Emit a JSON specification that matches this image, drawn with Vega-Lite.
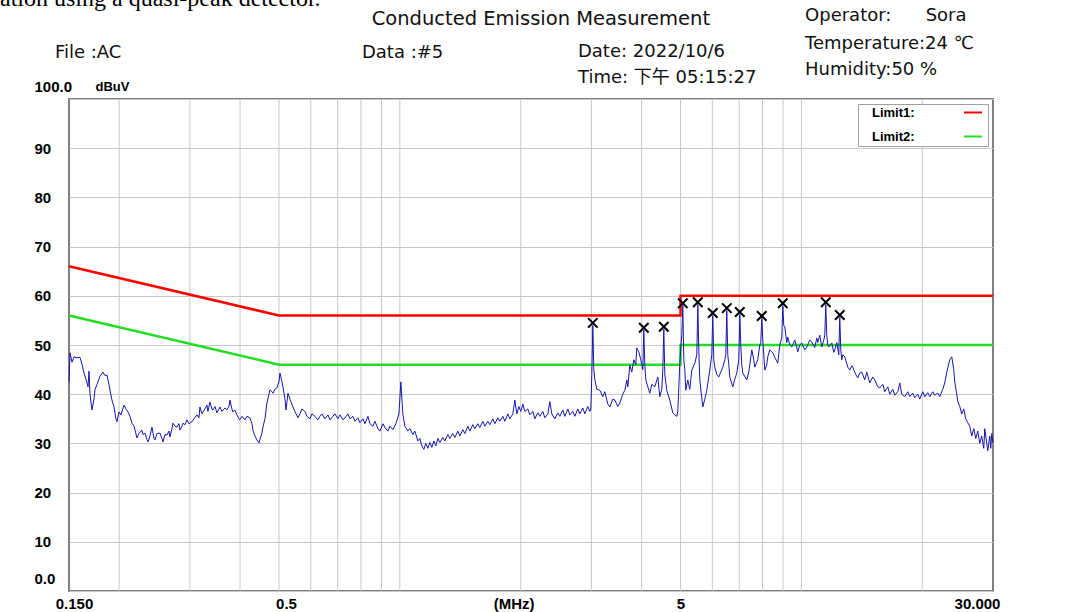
{
"$schema": "https://vega.github.io/schema/vega-lite/v6.json",
"width": 924, "height": 492,
"autosize": {"type": "none"},
"padding": {"left": 69, "top": 99, "right": 85, "bottom": 21},
"background": "white",
"config": {"view": {"stroke": "#7f7f7f", "strokeWidth": 2}},
"datasets": {
"grid": [{"f":0.2},{"f":0.3},{"f":0.4},{"f":0.5},{"f":0.6},{"f":0.7},{"f":0.8},{"f":0.9},{"f":1},{"f":2},{"f":3},{"f":4},{"f":5},{"f":6},{"f":7},{"f":8},{"f":9},{"f":10},{"f":20}],
"limits": [
{"lim":"Limit1","i":0,"f":0.15,"v":66},{"lim":"Limit1","i":1,"f":0.5,"v":56},{"lim":"Limit1","i":2,"f":5,"v":56},{"lim":"Limit1","i":3,"f":5,"v":60},{"lim":"Limit1","i":4,"f":30,"v":60},
{"lim":"Limit2","i":0,"f":0.15,"v":56},{"lim":"Limit2","i":1,"f":0.5,"v":46},{"lim":"Limit2","i":2,"f":5,"v":46},{"lim":"Limit2","i":3,"f":5,"v":50},{"lim":"Limit2","i":4,"f":30,"v":50}],
"peaks": [{"f":3.0238,"v":54.5},{"f":4.0507,"v":53.5},{"f":4.5429,"v":53.7},{"f":5.0657,"v":58.5},{"f":5.5206,"v":58.7},{"f":6.0163,"v":56.5},{"f":6.5192,"v":57.5},{"f":7.0236,"v":56.7},{"f":7.9677,"v":55.9},{"f":8.9872,"v":58.5},{"f":11.5,"v":58.7},{"f":12.461,"v":56.1}],
"meta": [
{"t":"File :AC","f":0.1384,"v":109.3},
{"t":"Data :#5","f":0.8047,"v":109.3},
{"t":"Date: 2022/10/6","f":2.777,"v":109.6},
{"t":"Time: 下午 05:15:27","f":2.777,"v":104.3},
{"t":"Operator:\u00a0\u00a0\u00a0\u00a0\u00a0\u00a0Sora","f":10.21,"v":116.9},
{"t":"Temperature:24 ℃","f":10.21,"v":111.2},
{"t":"Humidity:50 %","f":10.21,"v":105.9}],
"title": [{"t":"Conducted Emission Measurement","f":2.245,"v":116.3}],
"cut": [{"t":"ation using a quasi-peak detector.","f":0.101,"v":118.9}],
"trace": [
{"f":0.1500,"v":42.5},{"f":0.1509,"v":48.4},{"f":0.1526,"v":46.5},{"f":0.1544,"v":47.6},{"f":0.1570,"v":47.4},{"f":0.1598,"v":47.5},{"f":0.1617,"v":46},{"f":0.1635,"v":44.3},{"f":0.1654,"v":43},{"f":0.1673,"v":41.5},{"f":0.1682,"v":44.7},{"f":0.1692,"v":40},{"f":0.1711,"v":36.8},{"f":0.1731,"v":39},{"f":0.1741,"v":40.9},{"f":0.1761,"v":42},{"f":0.1791,"v":43.6},{"f":0.1822,"v":44.5},{"f":0.1843,"v":43.8},{"f":0.1865,"v":43.9},{"f":0.1886,"v":42},{"f":0.1919,"v":38.8},{"f":0.1941,"v":37.5},{"f":0.1963,"v":35},{"f":0.1975,"v":34.4},{"f":0.1998,"v":36.4},{"f":0.2021,"v":35.8},{"f":0.2056,"v":37.8},{"f":0.2080,"v":37},{"f":0.2104,"v":36.4},{"f":0.2128,"v":35.5},{"f":0.2153,"v":34.1},{"f":0.2178,"v":33.5},{"f":0.2215,"v":31.1},{"f":0.2240,"v":32},{"f":0.2279,"v":32.7},{"f":0.2292,"v":31.8},{"f":0.2318,"v":32.1},{"f":0.2345,"v":30.8},{"f":0.2359,"v":30.3},{"f":0.2387,"v":31.5},{"f":0.2414,"v":33.3},{"f":0.2442,"v":31},{"f":0.2456,"v":30.7},{"f":0.2484,"v":32},{"f":0.2527,"v":32.1},{"f":0.2557,"v":31},{"f":0.2571,"v":30.3},{"f":0.2601,"v":31.8},{"f":0.2631,"v":31.7},{"f":0.2661,"v":32.5},{"f":0.2676,"v":31.3},{"f":0.2707,"v":33},{"f":0.2723,"v":34.1},{"f":0.2754,"v":33.5},{"f":0.2786,"v":33.3},{"f":0.2818,"v":34},{"f":0.2834,"v":32.7},{"f":0.2867,"v":33.5},{"f":0.2883,"v":34.1},{"f":0.2917,"v":33.8},{"f":0.2950,"v":34.8},{"f":0.2984,"v":34},{"f":0.3036,"v":34.4},{"f":0.3071,"v":35},{"f":0.3124,"v":35.8},{"f":0.3160,"v":35.2},{"f":0.3178,"v":37.4},{"f":0.3215,"v":36},{"f":0.3233,"v":36.4},{"f":0.3271,"v":37},{"f":0.3308,"v":37.8},{"f":0.3327,"v":36.5},{"f":0.3366,"v":38.4},{"f":0.3405,"v":37},{"f":0.3425,"v":36.8},{"f":0.3464,"v":37.5},{"f":0.3504,"v":36.2},{"f":0.3544,"v":37},{"f":0.3564,"v":37.4},{"f":0.3605,"v":36.5},{"f":0.3668,"v":37.2},{"f":0.3710,"v":36.8},{"f":0.3753,"v":37.5},{"f":0.3775,"v":38.8},{"f":0.3818,"v":37},{"f":0.3840,"v":36.4},{"f":0.3884,"v":36.8},{"f":0.3929,"v":35.8},{"f":0.3975,"v":35},{"f":0.3998,"v":34.8},{"f":0.4044,"v":35.5},{"f":0.4114,"v":34.8},{"f":0.4162,"v":35.5},{"f":0.4233,"v":35.2},{"f":0.4282,"v":34},{"f":0.4307,"v":32.7},{"f":0.4356,"v":31.5},{"f":0.4407,"v":30.7},{"f":0.4458,"v":30.1},{"f":0.4509,"v":31.5},{"f":0.4535,"v":32.1},{"f":0.4561,"v":33.3},{"f":0.4614,"v":35},{"f":0.4667,"v":38.2},{"f":0.4721,"v":40},{"f":0.4748,"v":40.9},{"f":0.4803,"v":40.5},{"f":0.4831,"v":40.2},{"f":0.4886,"v":41},{"f":0.4943,"v":41.3},{"f":0.5000,"v":42.5},{"f":0.5029,"v":44.3},{"f":0.5087,"v":42.5},{"f":0.5116,"v":41.5},{"f":0.5175,"v":39},{"f":0.5205,"v":36.8},{"f":0.5235,"v":38.5},{"f":0.5265,"v":40.2},{"f":0.5325,"v":39},{"f":0.5418,"v":37.4},{"f":0.5480,"v":36.5},{"f":0.5575,"v":35.2},{"f":0.5639,"v":36},{"f":0.5704,"v":37},{"f":0.5803,"v":36.5},{"f":0.5870,"v":35.5},{"f":0.5972,"v":35},{"f":0.6041,"v":36},{"f":0.6146,"v":35.5},{"f":0.6252,"v":34.8},{"f":0.6324,"v":35.5},{"f":0.6397,"v":36},{"f":0.6508,"v":35},{"f":0.6621,"v":35.8},{"f":0.6697,"v":34.8},{"f":0.6813,"v":35.5},{"f":0.6892,"v":36},{"f":0.7012,"v":35},{"f":0.7093,"v":35.8},{"f":0.7216,"v":34.8},{"f":0.7299,"v":35.2},{"f":0.7425,"v":36},{"f":0.7511,"v":35},{"f":0.7641,"v":35.5},{"f":0.7729,"v":34.5},{"f":0.7863,"v":35.2},{"f":0.7954,"v":34.2},{"f":0.8093,"v":35},{"f":0.8186,"v":34},{"f":0.8328,"v":35.5},{"f":0.8424,"v":34},{"f":0.8570,"v":33.5},{"f":0.8669,"v":34.5},{"f":0.8820,"v":33},{"f":0.8921,"v":32.5},{"f":0.9076,"v":34},{"f":0.9180,"v":33.2},{"f":0.9340,"v":32.5},{"f":0.9447,"v":33.5},{"f":0.9611,"v":32.8},{"f":0.9778,"v":34},{"f":0.9947,"v":36},{"f":1.0058,"v":42.5},{"f":1.0174,"v":36},{"f":1.0291,"v":33.5},{"f":1.0469,"v":32.5},{"f":1.059,"v":33},{"f":1.0774,"v":31.8},{"f":1.0898,"v":32.5},{"f":1.1087,"v":30.5},{"f":1.1215,"v":31},{"f":1.1344,"v":29.5},{"f":1.1475,"v":28.8},{"f":1.1608,"v":30},{"f":1.1741,"v":29},{"f":1.1877,"v":30.2},{"f":1.2014,"v":29.2},{"f":1.2153,"v":30.5},{"f":1.2293,"v":29.5},{"f":1.2435,"v":31},{"f":1.2578,"v":30.2},{"f":1.2796,"v":31.2},{"f":1.2944,"v":30.5},{"f":1.3168,"v":31.8},{"f":1.3320,"v":31},{"f":1.3551,"v":32},{"f":1.3707,"v":31.2},{"f":1.3945,"v":32.5},{"f":1.4106,"v":31.5},{"f":1.4351,"v":32.8},{"f":1.4516,"v":32},{"f":1.4768,"v":33.5},{"f":1.4938,"v":32.5},{"f":1.5197,"v":33.8},{"f":1.5373,"v":33},{"f":1.5639,"v":34},{"f":1.5820,"v":33.2},{"f":1.6094,"v":34.5},{"f":1.6280,"v":33.5},{"f":1.6563,"v":34.5},{"f":1.6753,"v":33.8},{"f":1.7044,"v":35},{"f":1.7240,"v":34},{"f":1.7539,"v":35.2},{"f":1.7742,"v":34.5},{"f":1.8050,"v":35.5},{"f":1.8258,"v":34.5},{"f":1.8575,"v":36},{"f":1.8789,"v":35},{"f":1.9115,"v":36},{"f":1.9336,"v":38.8},{"f":1.9559,"v":36},{"f":1.9784,"v":37.5},{"f":2.0011,"v":36.5},{"f":2.0242,"v":38},{"f":2.0476,"v":36.5},{"f":2.0831,"v":37},{"f":2.1071,"v":35.8},{"f":2.1437,"v":36.5},{"f":2.1684,"v":35},{"f":2.2060,"v":36.2},{"f":2.2315,"v":35.5},{"f":2.2702,"v":36.5},{"f":2.2964,"v":35.2},{"f":2.3362,"v":36},{"f":2.3631,"v":38.5},{"f":2.3903,"v":36},{"f":2.4318,"v":35},{"f":2.4740,"v":36.2},{"f":2.5026,"v":35.5},{"f":2.5460,"v":36.8},{"f":2.5754,"v":35.5},{"f":2.6201,"v":37},{"f":2.6502,"v":35.8},{"f":2.6962,"v":36.5},{"f":2.7273,"v":35.5},{"f":2.7746,"v":37},{"f":2.8066,"v":36},{"f":2.8553,"v":37.2},{"f":2.8882,"v":36},{"f":2.9383,"v":37.5},{"f":2.9722,"v":36.5},{"f":2.9893,"v":37},{"f":3.0065,"v":44},{"f":3.0238,"v":54},{"f":3.0412,"v":45},{"f":3.0587,"v":43},{"f":3.0940,"v":41},{"f":3.1476,"v":40.8},{"f":3.2022,"v":39.5},{"f":3.2391,"v":40.5},{"f":3.2953,"v":38},{"f":3.3333,"v":37.4},{"f":3.3911,"v":39},{"f":3.4303,"v":38.8},{"f":3.4898,"v":37.5},{"f":3.5300,"v":38.2},{"f":3.5912,"v":40},{"f":3.6327,"v":40.8},{"f":3.6746,"v":42.9},{"f":3.6957,"v":41.5},{"f":3.7383,"v":45.9},{"f":3.7814,"v":44.5},{"f":3.8250,"v":47},{"f":3.8691,"v":46},{"f":3.8914,"v":49.4},{"f":3.9363,"v":48.6},{"f":3.9817,"v":47},{"f":4.0276,"v":45},{"f":4.0507,"v":53},{"f":4.0741,"v":46},{"f":4.0975,"v":42.9},{"f":4.1447,"v":41.5},{"f":4.1925,"v":40.2},{"f":4.2408,"v":42},{"f":4.3145,"v":41.5},{"f":4.3893,"v":43.5},{"f":4.4399,"v":39.5},{"f":4.4911,"v":41},{"f":4.5169,"v":45},{"f":4.5429,"v":53.2},{"f":4.5691,"v":44},{"f":4.6218,"v":40.8},{"f":4.7019,"v":38.8},{"f":4.7835,"v":36.2},{"f":4.8387,"v":35.8},{"f":4.8945,"v":35.5},{"f":4.9226,"v":36.4},{"f":4.9793,"v":46.3},{"f":5.0079,"v":49.6},{"f":5.0367,"v":52},{"f":5.0657,"v":58},{"f":5.0948,"v":47},{"f":5.1241,"v":45},{"f":5.1536,"v":40.8},{"f":5.2131,"v":42.9},{"f":5.2731,"v":41},{"f":5.3339,"v":44.9},{"f":5.4265,"v":46.3},{"f":5.4891,"v":48},{"f":5.5206,"v":58.2},{"f":5.5524,"v":49},{"f":5.5842,"v":42.9},{"f":5.6811,"v":37.4},{"f":5.7466,"v":39},{"f":5.8129,"v":40.8},{"f":5.9137,"v":44.9},{"f":5.9819,"v":48},{"f":6.0163,"v":56},{"f":6.0509,"v":47},{"f":6.0857,"v":45.5},{"f":6.1559,"v":44},{"f":6.2269,"v":43.5},{"f":6.2987,"v":44.5},{"f":6.3714,"v":45.5},{"f":6.4449,"v":47},{"f":6.4819,"v":48},{"f":6.5192,"v":57},{"f":6.5566,"v":48},{"f":6.5944,"v":46},{"f":6.6322,"v":43.5},{"f":6.7473,"v":41.5},{"f":6.8251,"v":43},{"f":6.9038,"v":44.3},{"f":6.9834,"v":47},{"f":7.0236,"v":56.2},{"f":7.0640,"v":50},{"f":7.1046,"v":46},{"f":7.1455,"v":44.3},{"f":7.3113,"v":42.9},{"f":7.3956,"v":44.5},{"f":7.4380,"v":46},{"f":7.5238,"v":49},{"f":7.6106,"v":47},{"f":7.6544,"v":45.5},{"f":7.7427,"v":46.5},{"f":7.7872,"v":47},{"f":7.8769,"v":50},{"f":7.9222,"v":50.5},{"f":7.9677,"v":55.4},{"f":8.0136,"v":51},{"f":8.0596,"v":48},{"f":8.1060,"v":44.9},{"f":8.1996,"v":46},{"f":8.2466,"v":47.6},{"f":8.3417,"v":49},{"f":8.4864,"v":48.4},{"f":8.5842,"v":47.5},{"f":8.7332,"v":46.3},{"f":8.8339,"v":50},{"f":8.9358,"v":51.5},{"f":8.9872,"v":58},{"f":9.0389,"v":54},{"f":9.0909,"v":53.7},{"f":9.1957,"v":50.5},{"f":9.2485,"v":51.6},{"f":9.3551,"v":50},{"f":9.4630,"v":49.6},{"f":9.6272,"v":51},{"f":9.7382,"v":49.5},{"f":9.7941,"v":48.6},{"f":9.9071,"v":50},{"f":10.021,"v":50.4},{"f":10.195,"v":49},{"f":10.313,"v":49.6},{"f":10.492,"v":51},{"f":10.613,"v":50.6},{"f":10.797,"v":49.5},{"f":10.922,"v":51.4},{"f":10.984,"v":50.5},{"f":11.111,"v":52},{"f":11.239,"v":49.6},{"f":11.369,"v":51},{"f":11.434,"v":52},{"f":11.500,"v":58.2},{"f":11.566,"v":52},{"f":11.633,"v":50},{"f":11.700,"v":49.6},{"f":11.903,"v":50.4},{"f":12.040,"v":48.5},{"f":12.109,"v":49},{"f":12.249,"v":50.5},{"f":12.390,"v":48},{"f":12.461,"v":55.6},{"f":12.533,"v":49},{"f":12.605,"v":47},{"f":12.677,"v":48},{"f":12.823,"v":47.6},{"f":13.046,"v":45.5},{"f":13.196,"v":44.9},{"f":13.348,"v":45.8},{"f":13.425,"v":45.5},{"f":13.658,"v":44},{"f":13.815,"v":43.3},{"f":13.975,"v":44.3},{"f":14.136,"v":44.5},{"f":14.382,"v":42.9},{"f":14.547,"v":44.5},{"f":14.800,"v":42.3},{"f":15.057,"v":43.5},{"f":15.231,"v":42.9},{"f":15.495,"v":41.5},{"f":15.673,"v":41.3},{"f":15.945,"v":42},{"f":16.129,"v":40.5},{"f":16.409,"v":41.5},{"f":16.598,"v":40},{"f":16.886,"v":41},{"f":17.081,"v":39.8},{"f":17.377,"v":40.5},{"f":17.577,"v":42.3},{"f":17.780,"v":40},{"f":18.088,"v":39.5},{"f":18.402,"v":40.5},{"f":18.614,"v":39.5},{"f":18.937,"v":40.2},{"f":19.155,"v":39.3},{"f":19.488,"v":40},{"f":19.713,"v":39},{"f":20.055,"v":40.5},{"f":20.286,"v":39.5},{"f":20.638,"v":40.3},{"f":20.876,"v":39.5},{"f":21.238,"v":40.5},{"f":21.483,"v":39.8},{"f":21.856,"v":40.2},{"f":22.108,"v":39.5},{"f":22.492,"v":41},{"f":22.751,"v":42.3},{"f":23.014,"v":44.5},{"f":23.412,"v":47},{"f":23.682,"v":47.6},{"f":23.955,"v":45},{"f":24.093,"v":42.5},{"f":24.371,"v":40},{"f":24.511,"v":38.5},{"f":24.794,"v":37.5},{"f":25.080,"v":36},{"f":25.369,"v":37},{"f":25.662,"v":35},{"f":25.958,"v":34.2},{"f":26.257,"v":33.5},{"f":26.560,"v":31.5},{"f":26.866,"v":33},{"f":27.176,"v":31},{"f":27.489,"v":32.5},{"f":27.806,"v":30},{"f":28.127,"v":31.5},{"f":28.451,"v":29},{"f":28.615,"v":33},{"f":28.945,"v":30},{"f":29.111,"v":28.5},{"f":29.447,"v":31.5},{"f":29.616,"v":29},{"f":29.787,"v":32},{"f":30.0,"v":30}]
},
"layer": [
{"data": {"name": "grid"}, "mark": {"type": "rule", "color": "#c8c8c8", "strokeWidth": 1},
 "encoding": {"x": {"field": "f", "type": "quantitative", "scale": {"type": "log", "domain": [0.15, 30], "nice": false},
   "axis": {"values": [0.15, 0.5, 1.92, 5, 30], "labelExpr": "datum.value < 0.2 ? '0.150' : datum.value < 1 ? '0.5' : datum.value < 3 ? '(MHz)' : datum.value < 10 ? '5' : '30.000'", "grid": false, "ticks": false, "tickSize": 0, "domain": false, "title": null, "labelFont": "Liberation Sans", "labelFontSize": 15, "labelFontWeight": "bold", "labelColor": "#000", "labelPadding": 5, "labelBaseline": "top", "labelOverlap": false, "labelFlush": false, "labelBound": false,
     "labelOffset": {"condition": [{"test": "datum.value < 0.2", "value": 5}, {"test": "datum.value < 1", "value": 7}, {"test": "datum.value > 20", "value": -16}], "value": 0}}}}},
{"data": {"name": "limits"}, "mark": {"type": "line", "strokeWidth": 2.5},
 "encoding": {"x": {"field": "f", "type": "quantitative", "scale": {"type": "log", "domain": [0.15, 30], "nice": false}},
   "y": {"field": "v", "type": "quantitative", "scale": {"domain": [0, 100], "nice": false, "zero": false},
     "axis": {"values": [0,10,20,30,40,50,60,70,80,90,100], "labelExpr": "datum.value == 0 ? '0.0' : datum.value == 100 ? '100.0' : datum.label", "grid": true, "gridColor": "#c8c8c8", "gridWidth": 1, "ticks": false, "tickSize": 0, "domain": false, "labelAlign": "left", "labelPadding": 35, "labelFont": "Liberation Sans", "labelFontSize": 15, "labelFontWeight": "bold", "labelColor": "#000", "labelBaseline": "middle", "labelOverlap": false, "labelFlush": false, "labelBound": false,
       "labelOffset": {"condition": {"test": "datum.value == 0 || datum.value == 100", "value": -13}, "value": 0},
       "title": "dBuV", "titleX": 26, "titleY": -13, "titleAngle": 0, "titleAlign": "left", "titleBaseline": "middle", "titleFont": "Liberation Sans", "titleFontSize": 13, "titleFontWeight": "bold", "titleColor": "#000"}},
   "order": {"field": "i", "type": "quantitative"},
   "color": {"field": "lim", "type": "nominal", "scale": {"domain": ["Limit1", "Limit2"], "range": ["#ff0000", "#22dd22"]},
     "legend": {"title": null, "orient": "top-right", "offset": 5, "padding": 2, "fillColor": "#ffffff", "strokeColor": "#a0a0a0", "symbolType": "M-2,0L2,0", "symbolSize": 81, "symbolStrokeWidth": 2, "symbolOffset": 106.5, "labelOffset": -107.5, "labelExpr": "datum.label + ':'", "labelFont": "Liberation Sans", "labelFontSize": 13, "labelFontWeight": "bold", "labelColor": "#000", "rowPadding": 10}}}},
{"data": {"name": "trace"}, "mark": {"type": "line", "color": "#1616b0", "strokeWidth": 1},
 "encoding": {"x": {"field": "f", "type": "quantitative", "scale": {"type": "log", "domain": [0.15, 30], "nice": false}},
   "y": {"field": "v", "type": "quantitative", "scale": {"domain": [0, 100], "nice": false, "zero": false}}}},
{"data": {"name": "peaks"}, "mark": {"type": "point", "shape": "M-1,-1L1,1M1,-1L-1,1", "filled": false, "stroke": "#000", "strokeWidth": 2, "size": 90, "opacity": 1},
 "encoding": {"x": {"field": "f", "type": "quantitative", "scale": {"type": "log", "domain": [0.15, 30], "nice": false}},
   "y": {"field": "v", "type": "quantitative", "scale": {"domain": [0, 100], "nice": false, "zero": false}}}},
{"data": {"name": "meta"}, "mark": {"type": "text", "align": "left", "baseline": "middle", "font": "DejaVu Sans, Noto Sans CJK SC", "fontSize": 18, "color": "#111"},
 "encoding": {"x": {"field": "f", "type": "quantitative", "scale": {"type": "log", "domain": [0.15, 30], "nice": false}},
   "y": {"field": "v", "type": "quantitative", "scale": {"domain": [0, 100], "nice": false, "zero": false}},
   "text": {"field": "t"}}},
{"data": {"name": "title"}, "mark": {"type": "text", "align": "center", "baseline": "middle", "font": "DejaVu Sans", "fontSize": 19.5, "color": "#111"},
 "encoding": {"x": {"field": "f", "type": "quantitative", "scale": {"type": "log", "domain": [0.15, 30], "nice": false}},
   "y": {"field": "v", "type": "quantitative", "scale": {"domain": [0, 100], "nice": false, "zero": false}},
   "text": {"field": "t"}}},
{"data": {"name": "cut"}, "mark": {"type": "text", "align": "left", "baseline": "alphabetic", "font": "Liberation Serif", "fontSize": 24, "color": "#000"},
 "encoding": {"x": {"field": "f", "type": "quantitative", "scale": {"type": "log", "domain": [0.15, 30], "nice": false}},
   "y": {"field": "v", "type": "quantitative", "scale": {"domain": [0, 100], "nice": false, "zero": false}},
   "text": {"field": "t"}}}
]
}
